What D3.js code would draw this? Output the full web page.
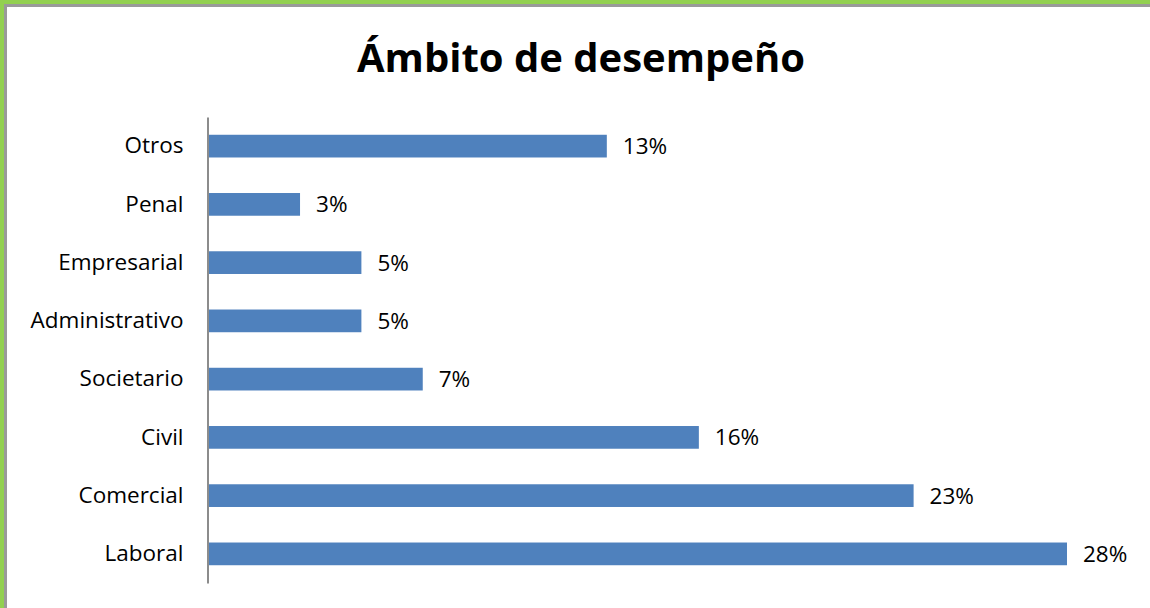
<!DOCTYPE html>
<html>
<head>
<meta charset="utf-8">
<script src="https://cdn.jsdelivr.net/npm/d3@7"></script>
<style>
html,body{margin:0;padding:0;background:#fff;}
svg{display:block;}
</style>
</head>
<body>
<svg id="chart" width="1150" height="608"></svg>
<script>
const categories = ["Otros","Penal","Empresarial","Administrativo","Societario","Civil","Comercial","Laboral"];
const values = [13,3,5,5,7,16,23,28];
const valueLabels = ["13%","3%","5%","5%","7%","16%","23%","28%"];
const title = "Ámbito de desempeño";

const svg = d3.select("#chart");
const W = 1150, H = 608;
const font = "'Open Sans', sans-serif";

// frame
svg.append("rect").attr("x",0).attr("y",0).attr("width",W).attr("height",H).attr("fill","#92D050");
svg.append("rect").attr("x",4).attr("y",4).attr("width",W-4).attr("height",H-4).attr("fill","#9a9a9a");
svg.append("rect").attr("x",7).attr("y",7).attr("width",W-7).attr("height",H-7).attr("fill","#fff");

svg.append("text").attr("x",581).attr("y",72).attr("text-anchor","middle")
  .attr("font-family",font).attr("font-weight","bold").attr("font-size",40).attr("fill","#000").text(title);

const x = d3.scaleLinear().domain([0,28]).range([208,1067]);
const y = d3.scaleBand().domain(categories).range([117,583]).paddingInner(0.61).paddingOuter(0.305);

svg.append("g").selectAll("rect").data(categories).join("rect")
  .attr("x",x(0)).attr("y",d=>y(d)).attr("width",(d,i)=>x(values[i])-x(0)).attr("height",y.bandwidth())
  .attr("fill","#4F81BD");

const axis = d3.axisLeft(y).tickSize(0).tickPadding(24);
const g = svg.append("g").attr("transform",`translate(${x(0)-0.5},0)`).call(axis);
g.select(".domain").attr("stroke","#8c8c8c").attr("stroke-width",2);
g.selectAll("text").attr("font-family",font).attr("font-size",22.5).attr("fill","#000");

svg.append("g").selectAll("text").data(categories).join("text")
  .attr("x",(d,i)=>x(values[i])+16).attr("y",d=>y(d)+y.bandwidth()/2).attr("dy","0.35em")
  .attr("font-family",font).attr("font-size",22.5).attr("fill","#000").text((d,i)=>valueLabels[i]);
</script>
</body>
</html>
